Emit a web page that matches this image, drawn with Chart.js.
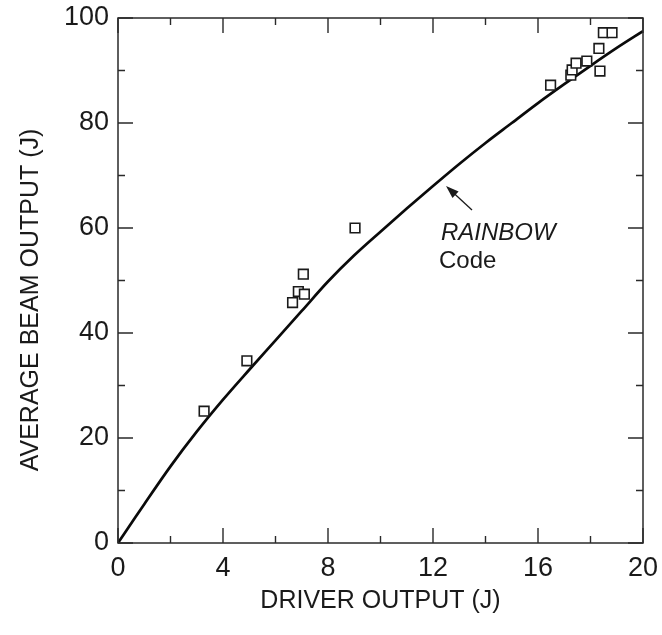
<!DOCTYPE html>
<html>
<head>
<meta charset="utf-8">
<script src="https://cdn.jsdelivr.net/npm/chart.js@4.4.1/dist/chart.umd.min.js"></script>
<style>
  html, body { margin: 0; padding: 0; background: #ffffff; }
  #wrap { width: 662px; height: 635px; }
</style>
</head>
<body>
<div id="wrap"><canvas id="c" width="662" height="635"></canvas></div>
<script>
// ---- data ----
const curveX = [0, 0.5, 1, 2, 3, 4, 5, 6, 7, 8, 9, 10, 11, 12, 13, 14, 15, 16, 17, 18, 19, 20];
const curveY = [0, 3.7, 7.4, 14.6, 21.2, 27.3, 33.0, 38.6, 44.2, 49.8, 54.8, 59.3, 63.7, 68.0, 72.2, 76.2, 80.0, 83.8, 87.4, 90.9, 94.3, 97.5];
const pointX = [3.28, 4.91, 6.65, 6.87, 7.10, 7.06, 9.03, 16.48, 17.25, 17.30, 17.45, 17.86, 18.32, 18.36, 18.49, 18.82];
const pointY = [25.1, 34.7, 45.8, 47.9, 47.4, 51.2, 60.0, 87.2, 89.1, 90.1, 91.4, 91.8, 94.2, 89.9, 97.2, 97.2];
const xTickValues = [0, 2, 4, 6, 8, 10, 12, 14, 16, 18, 20];
const yTickValues = [0, 10, 20, 30, 40, 50, 60, 70, 80, 90, 100];
const xMajorStep = 4;
const yMajorStep = 20;
const xTitle = "DRIVER OUTPUT (J)";
const yTitle = "AVERAGE BEAM OUTPUT (J)";
const annotLine1 = "RAINBOW";
const annotLine2 = "Code";

const FONT = "'Liberation Sans', Arial, Helvetica, sans-serif";
const INK = "#1a1a1a";

function zeroPad(s) { s.paddingTop = 0; s.paddingBottom = 0; s.paddingLeft = 0; s.paddingRight = 0; }

const framePlugin = {
  id: 'frame',
  afterDraw(chart) {
    const ctx = chart.ctx, a = chart.chartArea;
    const xs = chart.scales.x, ys = chart.scales.y;
    ctx.save();
    ctx.strokeStyle = "#2a2a2a";
    ctx.lineWidth = 1.5;
    ctx.strokeRect(a.left, a.top, a.right - a.left, a.bottom - a.top);
    ctx.lineWidth = 1.4;
    ctx.beginPath();
    xTickValues.forEach(v => {
      const p = xs.getPixelForValue(v);
      const len = (v % xMajorStep === 0) ? 15 : 7;
      ctx.moveTo(p, a.bottom); ctx.lineTo(p, a.bottom - len);
      ctx.moveTo(p, a.top); ctx.lineTo(p, a.top + len);
    });
    yTickValues.forEach(v => {
      const p = ys.getPixelForValue(v);
      const len = (v % yMajorStep === 0) ? 15 : 7;
      ctx.moveTo(a.left, p); ctx.lineTo(a.left + len, p);
      ctx.moveTo(a.right, p); ctx.lineTo(a.right - len, p);
    });
    ctx.stroke();

    // axis titles
    ctx.fillStyle = INK;
    ctx.font = "25px " + FONT;
    ctx.textAlign = "center";
    ctx.textBaseline = "middle";
    ctx.fillText(xTitle, (a.left + a.right) / 2, 601);
    ctx.save();
    ctx.translate(31, 300);
    ctx.rotate(-Math.PI / 2);
    ctx.fillText(yTitle, 0, 0);
    ctx.restore();

    // annotation
    ctx.textAlign = "left";
    ctx.textBaseline = "alphabetic";
    ctx.font = "italic 24px " + FONT;
    ctx.fillText(annotLine1, 441, 240);
    ctx.font = "24px " + FONT;
    ctx.fillText(annotLine2, 439, 268);

    // arrow
    const tx = 446, ty = 186;
    const sx = 472, sy = 210;
    const ang = Math.atan2(ty - sy, tx - sx);
    ctx.strokeStyle = INK;
    ctx.lineWidth = 1.3;
    ctx.beginPath();
    ctx.moveTo(sx, sy);
    ctx.lineTo(tx - 10 * Math.cos(ang), ty - 10 * Math.sin(ang));
    ctx.stroke();
    ctx.beginPath();
    ctx.moveTo(tx, ty);
    ctx.lineTo(tx - 13 * Math.cos(ang) + 4.5 * Math.sin(ang), ty - 13 * Math.sin(ang) - 4.5 * Math.cos(ang));
    ctx.lineTo(tx - 13 * Math.cos(ang) - 4.5 * Math.sin(ang), ty - 13 * Math.sin(ang) + 4.5 * Math.cos(ang));
    ctx.closePath();
    ctx.fill();
    ctx.restore();
  }
};

new Chart(document.getElementById('c'), {
  type: 'scatter',
  data: {
    datasets: [
      {
        label: 'Measured',
        data: pointX.map((x, i) => ({ x: x, y: pointY[i] })),
        pointStyle: 'rect',
        radius: 6.8,
        borderColor: INK,
        backgroundColor: '#ffffff',
        borderWidth: 1.6,
        showLine: false,
        order: 0
      },
      {
        label: 'RAINBOW Code',
        data: curveX.map((x, i) => ({ x: x, y: curveY[i] })),
        showLine: true,
        borderColor: '#0a0a0a',
        borderWidth: 2.7,
        pointRadius: 0,
        cubicInterpolationMode: 'monotone',
        fill: false,
        order: 1
      }
    ]
  },
  options: {
    responsive: false,
    animation: false,
    devicePixelRatio: 1,
    layout: { padding: { top: 18, right: 19, left: 0, bottom: 0 } },
    plugins: { legend: { display: false }, tooltip: { enabled: false } },
    scales: {
      x: {
        type: 'linear', min: 0, max: 20,
        grid: { display: false, drawTicks: false },
        border: { display: false },
        ticks: { stepSize: 4, color: INK, font: { family: FONT, size: 27 }, padding: 9, maxRotation: 0 },
        afterFit(s) { s.height = 92; zeroPad(s); }
      },
      y: {
        type: 'linear', min: 0, max: 100,
        grid: { display: false, drawTicks: false },
        border: { display: false },
        ticks: { stepSize: 20, color: INK, font: { family: FONT, size: 27 }, padding: 9 },
        afterFit(s) { s.width = 118; zeroPad(s); }
      }
    }
  },
  plugins: [framePlugin]
});
</script>
</body>
</html>
